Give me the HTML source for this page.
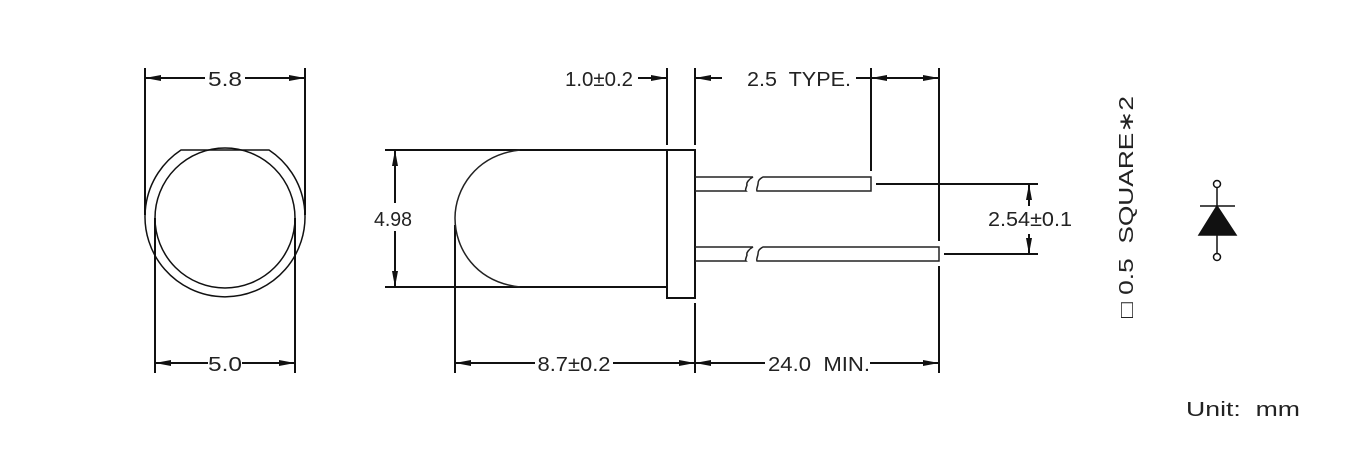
<!DOCTYPE html>
<html><head><meta charset="utf-8"><style>
html,body{margin:0;padding:0;background:#fff;}
svg{display:block;}
text{font-family:"Liberation Sans","DejaVu Sans",sans-serif;font-size:20px;fill:#222;}
</style></head><body>
<svg width="1365" height="452" viewBox="0 0 1365 452" xmlns="http://www.w3.org/2000/svg">
<defs>
<marker id="a" viewBox="0 0 16 6" refX="16" refY="3" markerWidth="16" markerHeight="6" markerUnits="userSpaceOnUse" orient="auto-start-reverse"><path d="M0,0 L16,3 L0,6 Z" fill="#111"/></marker>
</defs>
<g stroke="#111" stroke-width="2" fill="none">
<line x1="145" y1="68" x2="145" y2="215"/>
<line x1="305" y1="68" x2="305" y2="215"/>
<line x1="145" y1="78" x2="205" y2="78" marker-start="url(#a)"/>
<line x1="245" y1="78" x2="305" y2="78" marker-end="url(#a)"/>
<line x1="155" y1="218" x2="155" y2="373"/>
<line x1="295" y1="218" x2="295" y2="373"/>
<line x1="155" y1="363" x2="208" y2="363" marker-start="url(#a)"/>
<line x1="242" y1="363" x2="295" y2="363" marker-end="url(#a)"/>
</g>
<g stroke="#111" stroke-width="1.5" fill="none">
<path d="M181,150 L269,150 A80,80 0 1 1 181,150 Z"/>
<circle cx="225" cy="218" r="70"/>
</g>
<text x="225" y="86" text-anchor="middle" textLength="34" lengthAdjust="spacingAndGlyphs">5.8</text>
<text x="225" y="371" text-anchor="middle" textLength="34" lengthAdjust="spacingAndGlyphs">5.0</text>

<g stroke="#111" stroke-width="2" fill="none">
<line x1="385" y1="150" x2="695" y2="150"/>
<line x1="385" y1="287" x2="667" y2="287"/>
<rect x="667" y="150" width="28" height="148"/>
<line x1="455" y1="225" x2="455" y2="373"/>
<line x1="667" y1="68" x2="667" y2="145"/>
<line x1="695" y1="68" x2="695" y2="145"/>
<line x1="695" y1="303" x2="695" y2="373"/>
<line x1="871" y1="68" x2="871" y2="171"/>
<line x1="939" y1="68" x2="939" y2="241"/>
<line x1="939" y1="266" x2="939" y2="373"/>
<line x1="638" y1="78" x2="667" y2="78" marker-end="url(#a)"/>
<line x1="722" y1="78" x2="695" y2="78" marker-end="url(#a)"/>
<line x1="856" y1="78" x2="871" y2="78"/>
<line x1="871" y1="78" x2="939" y2="78" marker-start="url(#a)" marker-end="url(#a)"/>
<line x1="455" y1="363" x2="535" y2="363" marker-start="url(#a)"/>
<line x1="613" y1="363" x2="695" y2="363" marker-end="url(#a)"/>
<line x1="695" y1="363" x2="765" y2="363" marker-start="url(#a)"/>
<line x1="870" y1="363" x2="939" y2="363" marker-end="url(#a)"/>
<line x1="395" y1="150" x2="395" y2="203" marker-start="url(#a)"/>
<line x1="395" y1="231" x2="395" y2="287" marker-end="url(#a)"/>
<line x1="876" y1="184" x2="1038" y2="184"/>
<line x1="944" y1="254" x2="1038" y2="254"/>
<line x1="1029" y1="184" x2="1029" y2="206" marker-start="url(#a)"/>
<line x1="1029" y1="234" x2="1029" y2="254" marker-end="url(#a)"/>
</g>
<g stroke="#222" stroke-width="1.5" fill="none">
<path d="M520,150 C475,155 455,190 455,218 C455,248 475,282 520,287"/>
<path d="M695,177 L753,177 C749,179 746,183 747,185 C746,188 745,190 746,191 L695,191"/>
<path d="M763,177 L871,177 L871,191 L757,191 C756,189 758,186 758,184 C758,181 759,179 763,177 Z"/>
<path d="M695,247 L753,247 C749,249 746,253 747,255 C746,258 745,260 746,261 L695,261"/>
<path d="M763,247 L939,247 L939,261 L757,261 C756,259 758,256 758,254 C758,251 759,249 763,247 Z"/>
</g>
<text x="599" y="86" text-anchor="middle" textLength="68" lengthAdjust="spacingAndGlyphs">1.0±0.2</text>
<text x="799" y="86" text-anchor="middle" textLength="104" lengthAdjust="spacingAndGlyphs" xml:space="preserve">2.5  TYPE.</text>
<text x="393" y="226" text-anchor="middle" textLength="38" lengthAdjust="spacingAndGlyphs">4.98</text>
<text x="1030" y="226" text-anchor="middle" textLength="84" lengthAdjust="spacingAndGlyphs">2.54±0.1</text>
<text x="574" y="371" text-anchor="middle" textLength="73" lengthAdjust="spacingAndGlyphs">8.7±0.2</text>
<text x="819" y="371" text-anchor="middle" textLength="102" lengthAdjust="spacingAndGlyphs" xml:space="preserve">24.0  MIN.</text>

<text transform="translate(1133,207) rotate(-90)" text-anchor="middle" font-size="22" textLength="222" lengthAdjust="spacingAndGlyphs" xml:space="preserve">□ 0.5  SQUARE∗2</text>
<g stroke="#111" stroke-width="1.5">
<circle cx="1217" cy="184" r="3.5" fill="#fff"/>
<line x1="1217" y1="188" x2="1217" y2="206"/>
<line x1="1200" y1="206" x2="1235" y2="206"/>
<path d="M1217,206 L1236,235 L1199,235 Z" fill="#111"/>
<line x1="1217" y1="235" x2="1217" y2="253"/>
<circle cx="1217" cy="257" r="3.5" fill="#fff"/>
</g>
<text x="1243" y="416" text-anchor="middle" textLength="114" lengthAdjust="spacingAndGlyphs" xml:space="preserve">Unit:  mm</text>
</svg>
</body></html>
